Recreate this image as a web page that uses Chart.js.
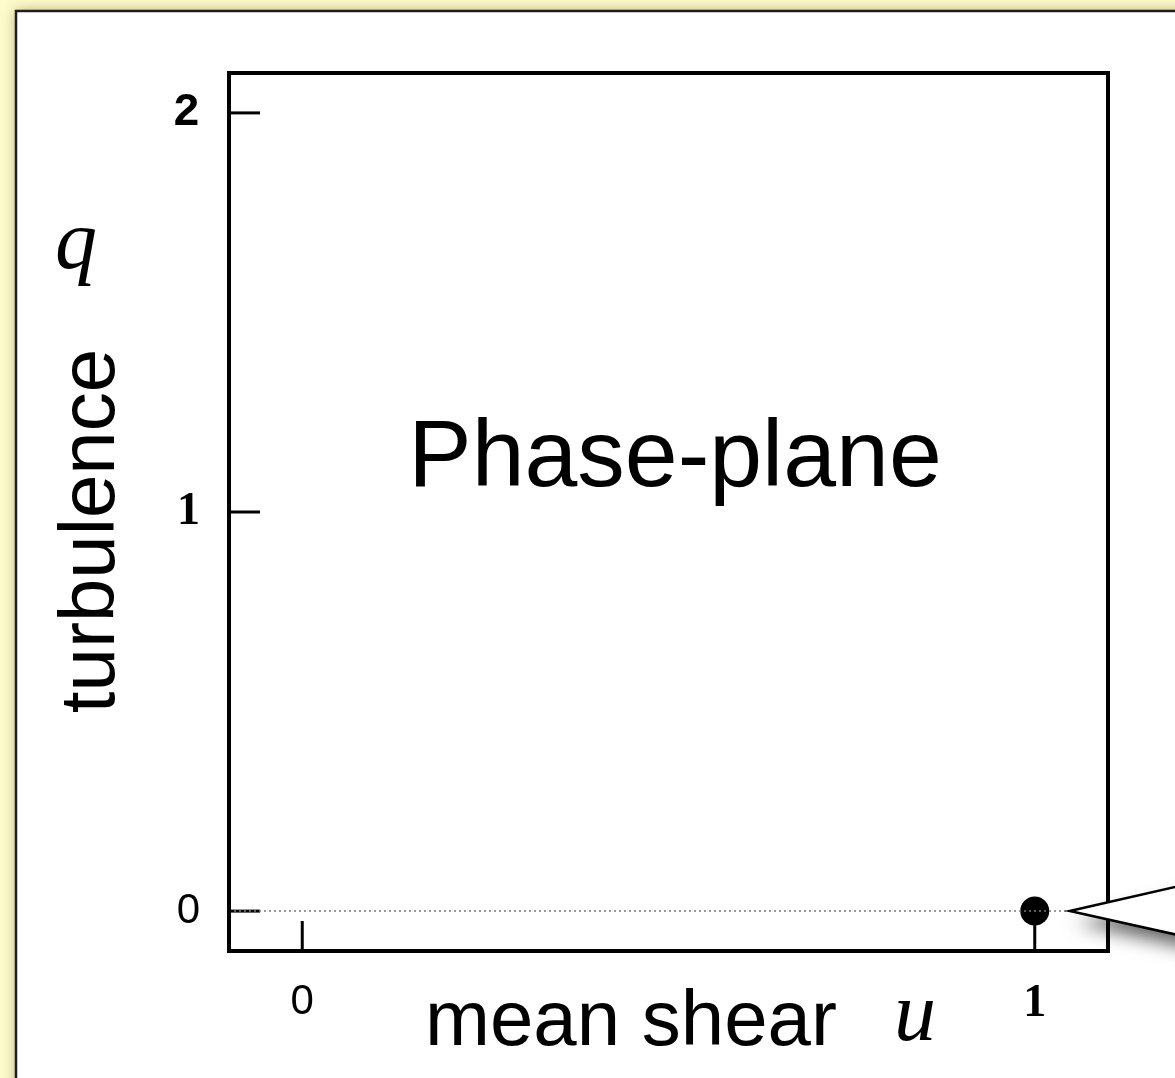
<!DOCTYPE html>
<html>
<head>
<meta charset="utf-8">
<script src="https://cdn.jsdelivr.net/npm/chart.js@4/dist/chart.umd.min.js"></script>
<style>
  html, body { margin: 0; padding: 0; overflow: hidden; background: #fdfacb; }
  #wrap { position: absolute; left: 0; top: 0; width: 1175px; height: 1078px; }
</style>
</head>
<body>
<div id="wrap"><canvas id="chart-1"></canvas></div>
<script>
// data
const uTicks = [0, 1];            // mean shear u
const qTicks = [0, 1, 2];         // turbulence q
const uRange = [-0.1, 1.1];
const qRange = [-0.1, 2.1];
const fixedPoints = [{ x: 1, y: 0 }];   // laminar fixed point
const qZero = 0;

const SANS = '"Liberation Sans", Arial, Helvetica, sans-serif';
const SERIF = '"Liberation Serif", "Times New Roman", serif';

function tickFont(ctx) {
    const v = ctx.tick ? ctx.tick.value : 0;
    if (v === 0) return { family: SANS, size: 42 };
    if (v === 2) return { family: '"Liberation Mono", monospace', size: 46, weight: 'bold' };
    return { family: SERIF, size: 46, weight: 'bold' };
}

const decor = {
    id: 'decor',
    beforeDraw(chart) {
        const c = chart.ctx;
        c.save();
        c.fillStyle = '#fdfacb';
        c.fillRect(0, 0, chart.width, chart.height);
        c.shadowColor = 'rgba(80,70,0,0.45)';
        c.shadowBlur = 12;
        c.fillStyle = '#ffffff';
        c.fillRect(16, 11, chart.width + 40, chart.height + 40);
        c.shadowColor = 'transparent';
        c.strokeStyle = '#1e1e1e';
        c.lineWidth = 2.5;
        c.strokeRect(16, 11, chart.width + 40, chart.height + 40);
        c.restore();
    },
    beforeDatasetsDraw(chart) {
        const c = chart.ctx, a = chart.chartArea;
        const xs = chart.scales.x, ys = chart.scales.y;
        c.save();
        c.strokeStyle = '#000';
        c.lineWidth = 3;
        c.lineCap = 'butt';
        qTicks.forEach(v => {
            const y = ys.getPixelForValue(v);
            c.beginPath(); c.moveTo(a.left, y); c.lineTo(a.left + 31, y); c.stroke();
        });
        uTicks.forEach(v => {
            const x = xs.getPixelForValue(v);
            c.beginPath(); c.moveTo(x, a.bottom); c.lineTo(x, a.bottom - 30); c.stroke();
        });
        c.restore();
    },
    afterDatasetsDraw(chart) {
        const c = chart.ctx, a = chart.chartArea;
        const xs = chart.scales.x, ys = chart.scales.y;
        c.save();
        // frame
        c.strokeStyle = '#000';
        c.lineWidth = 4;
        c.lineJoin = 'miter';
        c.strokeRect(a.left, a.top, a.right - a.left, a.bottom - a.top);

        // callout pointing at the fixed point
        const px = xs.getPixelForValue(fixedPoints[0].x) + 35;
        const py = ys.getPixelForValue(fixedPoints[0].y);
        c.beginPath();
        c.moveTo(px, py);
        c.lineTo(px + 140, py - 32);
        c.lineTo(px + 140, py + 31);
        c.closePath();
        c.shadowColor = 'rgba(0,0,0,0.6)';
        c.shadowBlur = 18;
        c.shadowOffsetX = 6;
        c.shadowOffsetY = 12;
        c.fillStyle = '#fff';
        c.fill();
        c.shadowColor = 'transparent';
        c.lineWidth = 2.5;
        c.strokeStyle = '#000';
        c.stroke();

        // labels
        c.fillStyle = '#000';
        c.textBaseline = 'alphabetic';
        c.font = '95px ' + SANS;
        c.textAlign = 'center';
        c.fillText('Phase-plane', 675, 486);

        c.textAlign = 'left';
        c.font = '78px ' + SANS;
        c.fillText('mean shear', 425, 1045);
        c.font = 'italic 84px ' + SERIF;
        c.fillText('u', 894, 1040);
        c.fillText('q', 55, 268);

        c.save();
        c.translate(114, 531);
        c.rotate(-Math.PI / 2);
        c.textAlign = 'center';
        c.font = '78px ' + SANS;
        c.fillText('turbulence', 0, 0);
        c.restore();
        c.restore();
    }
};

const ctx1 = document.getElementById('chart-1').getContext('2d');

new Chart(ctx1, {
    type: 'scatter',
    data: {
        datasets: [{
            type: 'line',
            data: [{ x: uRange[0], y: qZero }, { x: uRange[1], y: qZero }],
            borderColor: '#7a7a7a',
            borderWidth: 1.5,
            borderDash: [2, 3],
            pointRadius: 0,
            fill: false
        }, {
            data: fixedPoints,
            pointRadius: 14.5,
            backgroundColor: '#000',
            borderColor: '#000',
            borderWidth: 0
        }]
    },
    options: {
        responsive: true,
        maintainAspectRatio: false,
        animation: false,
        events: [],
        layout: { padding: { top: 73, right: 67, left: 0, bottom: 0 } },
        plugins: { legend: { display: false }, tooltip: { enabled: false } },
        scales: {
            x: {
                type: 'linear',
                min: uRange[0], max: uRange[1],
                afterBuildTicks: s => { s.ticks = uTicks.map(v => ({ value: v })); },
                afterFit: s => { s.height = 127; },
                grid: { display: false, drawTicks: false },
                border: { display: false },
                ticks: { color: '#000', padding: 26, font: tickFont }
            },
            y: {
                type: 'linear',
                min: qRange[0], max: qRange[1],
                afterBuildTicks: s => { s.ticks = qTicks.map(v => ({ value: v })); },
                afterFit: s => { s.width = 229; },
                grid: { display: false, drawTicks: false },
                border: { display: false },
                ticks: { color: '#000', padding: 29, font: tickFont }
            }
        }
    },
    plugins: [decor]
});
</script>
</body>
</html>
